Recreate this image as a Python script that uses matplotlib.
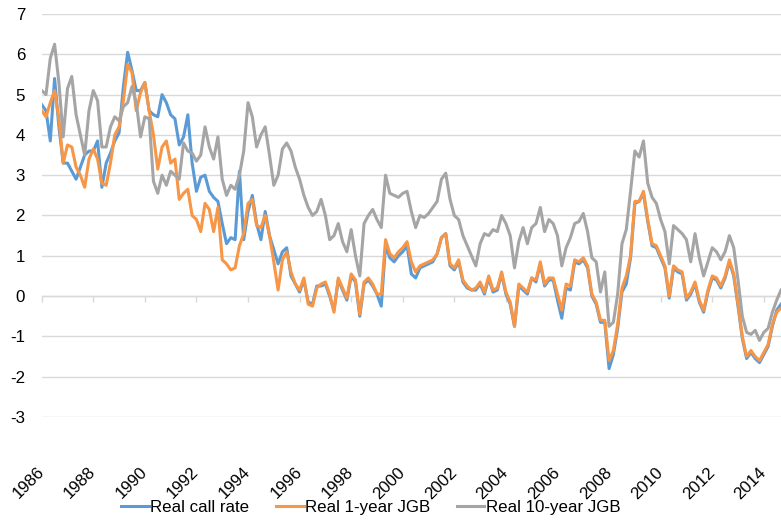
import numpy as np
import matplotlib
matplotlib.use("Agg")
import matplotlib.pyplot as plt

plt.rcParams['font.family'] = ['Liberation Sans', 'DejaVu Sans']

# bimonthly readings, Jan 1986 .. Sep 2014 (six per year)
call_rate = [
    4.75, 4.6, 3.85, 5.4, 4.2, 3.3,
    3.3, 3.1, 2.9, 3.2, 3.5, 3.6,
    3.6, 3.85, 2.7, 3.3, 3.55, 3.85,
    4.05, 5.2, 6.05, 5.6, 5.1, 5.1,
    5.3, 4.6, 4.5, 4.45, 5.0, 4.8,
    4.5, 4.4, 3.75, 3.95, 4.5, 3.3,
    2.6, 2.95, 3.0, 2.6, 2.45, 2.35,
    1.8, 1.3, 1.45, 1.4, 3.1, 1.4,
    2.1, 2.5, 1.8, 1.4, 2.1, 1.5,
    1.15, 0.8, 1.1, 1.2, 0.5, 0.3,
    0.1, 0.4, -0.15, -0.2, 0.25, 0.25,
    0.3, 0.0, -0.35, 0.4, 0.15, -0.1,
    0.5, 0.35, -0.5, 0.3, 0.4, 0.25,
    0.05, -0.25, 1.25, 0.95, 0.85, 1.0,
    1.1, 1.25, 0.55, 0.45, 0.7, 0.75,
    0.8, 0.85, 1.05, 1.45, 1.55, 0.75,
    0.65, 0.85, 0.35, 0.2, 0.15, 0.15,
    0.3, 0.05, 0.45, 0.1, 0.15, 0.55,
    0.05, -0.2, -0.75, 0.25, 0.15, 0.05,
    0.45, 0.35, 0.8, 0.25, 0.4, 0.4,
    -0.1, -0.55, 0.2, 0.15, 0.85, 0.8,
    0.9, 0.7, 0.0, -0.2, -0.65, -0.65,
    -1.8, -1.45, -0.8, 0.1, 0.3, 0.95,
    2.3, 2.35, 2.55, 1.85, 1.25, 1.2,
    0.95, 0.7, -0.05, 0.7, 0.6, 0.55,
    -0.1, 0.05, 0.3, -0.15, -0.4, 0.1,
    0.45, 0.4, 0.2, 0.45, 0.85, 0.5,
    -0.25, -1.05, -1.55, -1.4, -1.55, -1.65,
    -1.45, -1.25, -0.75, -0.35, -0.2,
]

jgb_1y = [
    4.6, 4.45, 4.8, 5.1, 4.4, 3.3,
    3.75, 3.7, 3.2, 3.0, 2.7, 3.4,
    3.65, 3.4, 2.8, 2.75, 3.3, 4.0,
    4.2, 4.85, 5.75, 5.55, 4.6, 5.05,
    5.3, 4.6, 4.0, 3.15, 3.7, 3.85,
    3.3, 3.4, 2.4, 2.55, 2.65, 2.0,
    1.9, 1.6, 2.3, 2.15, 1.6, 2.2,
    0.9, 0.8, 0.65, 0.7, 1.25, 1.55,
    2.3, 2.4, 1.75, 1.7, 2.0, 1.5,
    0.85, 0.15, 0.9, 1.1, 0.6, 0.3,
    0.15, 0.45, -0.2, -0.25, 0.2, 0.3,
    0.35, 0.05, -0.4, 0.45, 0.2, -0.05,
    0.55, 0.4, -0.45, 0.35, 0.45, 0.3,
    0.05, 0.05, 1.4, 1.05, 0.95, 1.1,
    1.2, 1.35, 0.85, 0.6, 0.75, 0.8,
    0.85, 0.9, 1.05, 1.45, 1.55, 0.8,
    0.7, 0.9, 0.4, 0.25, 0.15, 0.2,
    0.35, 0.1, 0.5, 0.15, 0.2, 0.6,
    0.1, -0.15, -0.75, 0.3, 0.2, 0.1,
    0.45, 0.4, 0.85, 0.3, 0.45, 0.45,
    0.05, -0.35, 0.3, 0.25, 0.9, 0.85,
    0.95, 0.75, 0.05, -0.15, -0.6, -0.6,
    -1.6, -1.35, -0.7, 0.2, 0.5, 1.0,
    2.35, 2.35, 2.6, 1.9, 1.3, 1.25,
    1.0, 0.75, 0.0, 0.75, 0.65, 0.6,
    -0.05, 0.1, 0.35, -0.1, -0.35, 0.15,
    0.5, 0.45, 0.25, 0.5, 0.9, 0.55,
    -0.2, -1.0, -1.5, -1.35, -1.5, -1.6,
    -1.4, -1.2, -0.7, -0.4, -0.3,
]

jgb_10y = [
    5.1, 5.0, 5.9, 6.25, 5.3, 3.95,
    5.15, 5.45, 4.5, 4.0, 3.5, 4.6,
    5.1, 4.85, 3.7, 3.7, 4.2, 4.45,
    4.35, 4.7, 4.8, 5.2, 4.8, 3.95,
    4.45, 4.4, 2.85, 2.55, 3.0, 2.75,
    3.1, 3.0, 2.9, 3.8, 3.6, 3.55,
    3.35, 3.5, 4.2, 3.7, 3.4, 3.95,
    2.9, 2.5, 2.75, 2.65, 3.0, 3.6,
    4.8, 4.45, 3.7, 4.0, 4.2, 3.5,
    2.75, 3.0, 3.65, 3.8, 3.6, 3.2,
    2.9, 2.5, 2.2, 2.0, 2.1, 2.4,
    2.0, 1.4, 1.5, 1.8, 1.35, 1.1,
    1.65, 1.0, 0.5, 1.8, 2.0, 2.15,
    1.9, 1.7, 3.0, 2.55, 2.5, 2.45,
    2.55, 2.6, 2.1, 1.7, 2.0, 1.95,
    2.05, 2.2, 2.35, 2.9, 3.05, 2.4,
    2.0, 1.9, 1.5, 1.25, 1.0, 0.75,
    1.3, 1.55, 1.5, 1.65, 1.6, 2.0,
    1.8, 1.5, 0.7, 1.35, 1.7, 1.3,
    1.7, 1.8, 2.2, 1.6, 1.9, 1.8,
    1.5, 0.75, 1.2, 1.45, 1.8, 1.85,
    2.05, 1.6, 0.95, 0.85, 0.1, 0.6,
    -0.75, -0.65, 0.05, 1.3, 1.65, 2.6,
    3.6, 3.45, 3.85, 2.8, 2.45, 2.3,
    1.9, 1.6, 0.8, 1.75, 1.65, 1.55,
    1.4, 0.85, 1.55, 0.95, 0.5, 0.85,
    1.2, 1.1, 0.9, 1.1, 1.5, 1.2,
    0.4, -0.5, -0.9, -0.95, -0.85, -1.1,
    -0.9, -0.8, -0.4, -0.1, 0.15,
]

series_names = ["Real call rate", "Real 1-year JGB", "Real 10-year JGB"]
series_colors = ["#5B9BD5", "#F79646", "#A5A5A5"]
tick_years = list(range(1986, 2015, 2))
tick_labels = [str(y) for y in tick_years]
y_ticks = list(range(-3, 8))

t = 1986 + np.arange(len(call_rate)) / 6.0

fig = plt.figure(figsize=(7.81, 5.2), dpi=100)
W, H = 781.0, 520.0
ax = fig.add_axes([41.7 / W, (H - 417) / H, (W - 41.7) / W, (417 - 14) / H])

lines = []
for vals, name, col in zip([call_rate, jgb_1y, jgb_10y], series_names, series_colors):
    ln, = ax.plot(t, vals, color=col, lw=2.2, label=name, solid_joinstyle='round')
    lines.append(ln)

ax.set_xlim(1986, t[-1])
ax.set_ylim(-3, 7)
ax.set_yticks(y_ticks)
ax.set_yticklabels([str(v) for v in y_ticks])
ax.yaxis.grid(True, color='#D9D9D9', lw=1.0)
ax.set_axisbelow(True)
for s in ax.spines.values():
    s.set_visible(False)
ax.tick_params(axis='y', length=0, pad=12, labelsize=12.2, labelcolor='black')

ax.set_xticks(tick_years)
ax.set_xticklabels(tick_labels, rotation=45, ha='right', va='center',
                   rotation_mode='anchor', fontsize=12.2)
ax.tick_params(axis='x', length=0, pad=38)

# horizontal axis crossing at zero with its tick marks
zero_pos = (0 - (-3)) / 10.0
sec = ax.secondary_xaxis(zero_pos)
sec.set_xticks(tick_years)
sec.tick_params(length=4, width=1.0, color='#D9D9D9', labelbottom=False, labeltop=False)
sec.spines['bottom'].set_color('#D9D9D9')
sec.spines['bottom'].set_linewidth(1.0)

fig.legend(handles=lines, loc='center', bbox_to_anchor=(371 / W, 12.3 / H),
           ncol=3, frameon=False, handlelength=1.62, handletextpad=0.1,
           columnspacing=1.57, fontsize=12.2, borderaxespad=0)

fig.savefig("out.png", dpi=100)
